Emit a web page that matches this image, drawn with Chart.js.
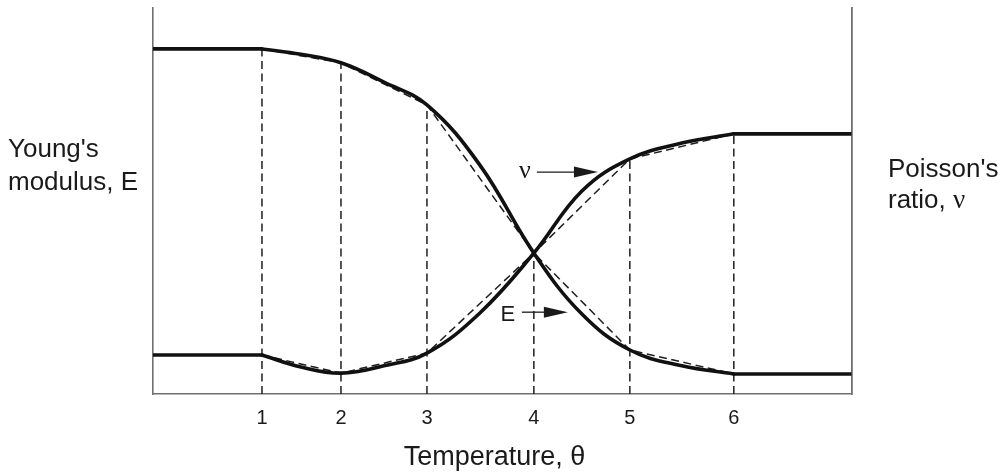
<!DOCTYPE html>
<html><head><meta charset="utf-8">
<script src="https://cdn.jsdelivr.net/npm/chart.js@4.4.1/dist/chart.umd.min.js"></script>
<style>html,body{margin:0;padding:0;background:#fff;overflow:hidden}#wrap{width:1006px;height:476px;position:relative}</style>
</head><body><div id="wrap"><canvas id="c"></canvas></div>
<script>
// Temperature axis: tick labels and their positions (schematic units)
const tickLabels = ['1', '2', '3', '4', '5', '6'];
const nodeTheta = [1.0, 1.725, 2.514, 3.495, 4.376, 5.33];
const axisMaxTheta = 6.41;
// Piecewise-linear (dashed) approximation: values at nodes, relative 0-100
const eNodes = [89.4, 85.8, 74.9, 36.5, 11.4, 5.2];
const nuNodes = [10.1, 5.4, 10.6, 36.5, 60.9, 67.4];
// True (solid) curves, read at nodes and mid-points
const curveTheta = [1.0, 1.358, 1.725, 2.119, 2.514, 3.0, 3.495, 3.936, 4.376, 4.853, 5.33];
const eCurve = [89.4, 88.0, 85.8, 80.8, 74.9, 59.3, 36.5, 20.7, 11.4, 7.3, 5.2];
const nuCurve = [10.1, 7.0, 5.4, 7.3, 10.6, 21.0, 36.5, 52.6, 60.9, 65.0, 67.4];

const SANS = '"Liberation Sans", Arial, Helvetica, sans-serif';
const SERIF = '"Liberation Serif", "Times New Roman", serif';
const INK = '#1a1a1a';
const AXIS = '#707070';

function pts(xs, ys) { return xs.map((x, i) => ({x: x, y: ys[i]})); }
const last = a => a[a.length - 1];

const solid = {borderColor: '#111', borderWidth: 3.6, pointRadius: 0, fill: false,
  tension: 0.4, order: 0, borderCapStyle: 'round', borderJoinStyle: 'round'};
const dashed = {borderColor: '#1e1e1e', borderWidth: 1.5, borderDash: [8, 4.5], pointRadius: 0,
  fill: false, tension: 0, order: 1};

const datasets = [
  Object.assign({label: 'E flat low T', data: [{x: 0, y: eNodes[0]}, {x: nodeTheta[0], y: eNodes[0]}]}, solid),
  Object.assign({label: 'E', data: pts(curveTheta, eCurve)}, solid),
  Object.assign({label: 'E flat high T', data: [{x: last(nodeTheta), y: last(eNodes)}, {x: axisMaxTheta, y: last(eNodes)}]}, solid),
  Object.assign({label: 'nu flat low T', data: [{x: 0, y: nuNodes[0]}, {x: nodeTheta[0], y: nuNodes[0]}]}, solid),
  Object.assign({label: 'nu', data: pts(curveTheta, nuCurve)}, solid),
  Object.assign({label: 'nu flat high T', data: [{x: last(nodeTheta), y: last(nuNodes)}, {x: axisMaxTheta, y: last(nuNodes)}]}, solid),
  Object.assign({label: 'E approx', data: pts(nodeTheta, eNodes)}, dashed),
  Object.assign({label: 'nu approx', data: pts(nodeTheta, nuNodes)}, dashed)
];
nodeTheta.forEach((t, i) => {
  datasets.push(Object.assign({label: 'v' + i,
    data: [{x: t, y: 0}, {x: t, y: Math.max(eNodes[i], nuNodes[i])}]}, dashed));
});

const annotations = [
  {text: 'ν', font: '26px ' + SERIF, tx: 3.413, ty: 57.8, ax0: 3.523, ax1: 4.083, ay: 57.5},
  {text: 'E', font: '22px ' + SANS, tx: 3.257, ty: 20.4, ax0: 3.385, ax1: 3.807, ay: 21.2}
];

const labelPlugin = {
  id: 'labels',
  afterDatasetsDraw(chart) {
    const ctx = chart.ctx, xs = chart.scales.x, ys = chart.scales.y;
    ctx.save();
    ctx.fillStyle = INK;
    ctx.textBaseline = 'alphabetic';
    ctx.textAlign = 'left';
    ctx.font = '26px ' + SANS;
    ctx.fillText("Young's", 8, 157);
    ctx.fillText('modulus, E', 8, 190);
    ctx.fillText("Poisson's", 888, 177);
    ctx.fillText('ratio, ', 888, 208);
    const w = ctx.measureText('ratio, ').width;
    ctx.font = '27px ' + SERIF;
    ctx.fillText('ν', 888 + w, 208);
    ctx.textAlign = 'center';
    ctx.font = '27px ' + SANS;
    ctx.fillText('Temperature, θ', 494.5, 465);
    annotations.forEach(a => {
      ctx.font = a.font;
      ctx.textAlign = 'center';
      ctx.textBaseline = 'middle';
      ctx.fillText(a.text, xs.getPixelForValue(a.tx), ys.getPixelForValue(a.ty));
      const x0 = xs.getPixelForValue(a.ax0), x1 = xs.getPixelForValue(a.ax1), y = ys.getPixelForValue(a.ay);
      ctx.strokeStyle = INK; ctx.lineWidth = 1.3;
      ctx.beginPath(); ctx.moveTo(x0, y); ctx.lineTo(x1 - 18, y); ctx.stroke();
      ctx.beginPath(); ctx.moveTo(x1, y); ctx.lineTo(x1 - 24, y - 5.5); ctx.lineTo(x1 - 24, y + 5.5); ctx.closePath(); ctx.fill();
    });
    ctx.restore();
  }
};

new Chart(document.getElementById('c'), {
  type: 'line',
  data: {datasets: datasets},
  options: {
    responsive: true, maintainAspectRatio: false, animation: false,
    devicePixelRatio: 1,
    layout: {padding: {left: 153, right: 154.5, top: 8, bottom: 0}},
    plugins: {legend: {display: false}, tooltip: {enabled: false}},
    elements: {line: {capBezierPoints: true}},
    scales: {
      x: {
        type: 'linear', min: 0, max: axisMaxTheta,
        grid: {display: false, drawTicks: false},
        border: {display: true, color: AXIS, width: 1.6},
        afterBuildTicks: s => { s.ticks = nodeTheta.map(v => ({value: v})); },
        afterFit: s => { s.height = 82; },
        ticks: {autoSkip: false, maxRotation: 0, padding: 12, color: INK,
          font: {family: SANS, size: 20},
          callback: (v, i) => tickLabels[i]},
        title: {display: false}
      },
      y: {
        position: 'left', min: 0, max: 100,
        grid: {display: false, drawTicks: false},
        ticks: {display: false},
        border: {display: true, color: AXIS, width: 1.6},
        afterFit: s => { s.width = 0; }
      },
      y2: {
        position: 'right', min: 0, max: 100,
        grid: {display: false, drawTicks: false},
        ticks: {display: false},
        border: {display: true, color: AXIS, width: 1.8},
        afterFit: s => { s.width = 0; }
      }
    }
  },
  plugins: [labelPlugin]
});
</script></body></html>
